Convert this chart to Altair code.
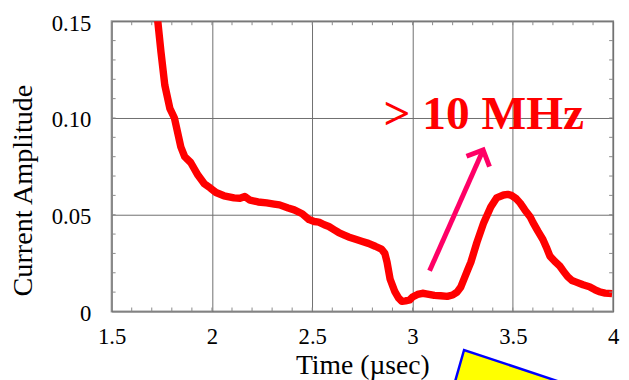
import altair as alt
import pandas as pd

# ---- data ----
time_us = [1.728, 1.746, 1.765, 1.79, 1.813, 1.845, 1.864, 1.894, 1.93, 1.962, 1.992,
           2.02, 2.06, 2.11, 2.14, 2.164, 2.19, 2.23, 2.273, 2.31, 2.337, 2.38, 2.41,
           2.45, 2.484, 2.51, 2.533, 2.56, 2.583, 2.61, 2.632, 2.66, 2.681, 2.72, 2.75,
           2.78, 2.814, 2.845, 2.862, 2.873, 2.888, 2.912, 2.93, 2.947, 2.965, 2.986,
           3.0, 3.025, 3.05, 3.075, 3.109, 3.14, 3.173, 3.2, 3.222, 3.24, 3.257, 3.275,
           3.291, 3.321, 3.355, 3.39, 3.419, 3.454, 3.475, 3.493, 3.515, 3.537, 3.56,
           3.586, 3.601, 3.625, 3.65, 3.67, 3.685, 3.71, 3.734, 3.755, 3.774, 3.795,
           3.813, 3.85, 3.882, 3.91, 3.931, 3.96, 3.995]
amplitude = [0.152, 0.134, 0.117, 0.105, 0.100, 0.085, 0.080, 0.077, 0.0705, 0.066, 0.0638,
             0.0615, 0.0598, 0.0587, 0.0585, 0.0594, 0.0575, 0.0566, 0.0561, 0.0555, 0.0551,
             0.0535, 0.0525, 0.0505, 0.0475, 0.0465, 0.0462, 0.0448, 0.0439, 0.0422, 0.0408,
             0.0395, 0.0385, 0.0372, 0.0362, 0.0352, 0.0337, 0.0322, 0.0300, 0.0255, 0.0168,
             0.0102, 0.0070, 0.0052, 0.0055, 0.0060, 0.0075, 0.0088, 0.0094, 0.0090, 0.0083,
             0.0081, 0.0078, 0.0085, 0.0100, 0.0125, 0.0168, 0.0215, 0.0255, 0.0357, 0.0459,
             0.0540, 0.0587, 0.0602, 0.0605, 0.0600, 0.0585, 0.0560, 0.0525, 0.0490, 0.0459,
             0.0415, 0.0372, 0.0325, 0.0286, 0.0258, 0.0235, 0.0205, 0.0179, 0.0160, 0.0153,
             0.0138, 0.0128, 0.0112, 0.0102, 0.0095, 0.0092]

x_ticks = [1.5, 2, 2.5, 3, 3.5, 4]
y_ticks = [0, 0.05, 0.10, 0.15]
x_minor = [round(1.5 + 0.1 * i, 2) for i in range(1, 25)]
y_minor = [round(0.01 * i, 2) for i in range(1, 15)]

arrow_x = [3.085, 3.352]
arrow_y = [0.021, 0.0835]
label_text = ["> 10 MHz"]
label_x = [3.355]
label_y = [0.0942]

tri_x = [3.1614, 3.257, 4.261]
tri_top = [-0.0546, -0.0199, -0.0546]
tri_bottom = [-0.0546, -0.0546, -0.0546]

FONT = "Liberation Serif"
W, H = 508, 294

xs = alt.Scale(domain=[1.5, 4], nice=False, zero=False)
ys = alt.Scale(domain=[0, 0.15], nice=False, zero=False)

curve_df = pd.DataFrame({"t": time_us, "a": amplitude})

curve = alt.Chart(curve_df).mark_line(
    color="#FF0000", strokeWidth=7.5, clip=True, strokeJoin="round"
).encode(
    x=alt.X("t:Q", scale=xs, axis=alt.Axis(
        values=x_ticks, grid=True, ticks=False, domain=False, labelFlush=False,
        labelExpr="format(datum.value, '~g')", labelFont=FONT, labelFontSize=23,
        labelColor="black", labelPadding=14, title="Time (\u00b5sec)", titleFont=FONT,
        titleFontSize=28, titleFontWeight="normal", titleColor="black",
        titleBaseline="alphabetic", titleY=63)),
    y=alt.Y("a:Q", scale=ys, axis=alt.Axis(
        values=y_ticks, grid=True, ticks=False, domain=False, labelFlush=False,
        labelExpr="datum.value == 0 ? '0' : format(datum.value, '.2f')",
        labelFont=FONT, labelFontSize=23, labelColor="black", labelPadding=21,
        labelOffset=2, title="Current Amplitude", titleFont=FONT, titleFontSize=28.5,
        titleFontWeight="normal", titleColor="black", titleBaseline="alphabetic",
        titleAngle=270, titleX=-81, titleY=171, titleAlign="center")),
)

tick_col = "#8a8a8a"
xm_df = pd.DataFrame({"t": x_minor})
ym_df = pd.DataFrame({"a": y_minor})
bottom_ticks = alt.Chart(xm_df).mark_rule(color=tick_col, strokeWidth=1).encode(
    x=alt.X("t:Q", scale=xs, axis=None), y=alt.value(H), y2=alt.value(H - 4))
top_ticks = alt.Chart(xm_df).mark_rule(color=tick_col, strokeWidth=1).encode(
    x=alt.X("t:Q", scale=xs, axis=None), y=alt.value(0), y2=alt.value(4))
left_ticks = alt.Chart(ym_df).mark_rule(color=tick_col, strokeWidth=1).encode(
    y=alt.Y("a:Q", scale=ys, axis=None), x=alt.value(0), x2=alt.value(4))
right_ticks = alt.Chart(ym_df).mark_rule(color=tick_col, strokeWidth=1).encode(
    y=alt.Y("a:Q", scale=ys, axis=None), x=alt.value(W), x2=alt.value(W - 4))

arrow_df = pd.DataFrame({"x": arrow_x, "y": arrow_y, "o": [0, 1]})
arrow_line = alt.Chart(arrow_df).mark_line(color="#FF0066", strokeWidth=5).encode(
    x=alt.X("x:Q", scale=xs, axis=None), y=alt.Y("y:Q", scale=ys, axis=None), order="o:Q")
head_df = pd.DataFrame({"x": arrow_x[1:], "y": arrow_y[1:]})
arrow_head = alt.Chart(head_df).mark_point(
    shape="M -1 1 L 0 0 L 1 1", angle=24, size=650, filled=False,
    stroke="#FF0066", strokeWidth=5, opacity=1, strokeJoin="miter"
).encode(x=alt.X("x:Q", scale=xs, axis=None), y=alt.Y("y:Q", scale=ys, axis=None))

label_df = pd.DataFrame({"x": label_x, "y": label_y, "txt": label_text})
label = alt.Chart(label_df).mark_text(
    font=FONT, fontSize=48, fontWeight="bold", color="#FF0000",
    align="center", baseline="alphabetic"
).encode(x=alt.X("x:Q", scale=xs, axis=None), y=alt.Y("y:Q", scale=ys, axis=None),
         text="txt:N")

tri_df = pd.DataFrame({"x": tri_x, "top": tri_top, "bot": tri_bottom})
triangle = alt.Chart(tri_df).mark_area(
    color="#FFFF00", stroke="#0000FF", strokeWidth=2.5, opacity=1, fillOpacity=1
).encode(x=alt.X("x:Q", scale=xs, axis=None), y=alt.Y("top:Q", scale=ys, axis=None),
         y2="bot:Q")

chart = alt.layer(
    triangle, curve, bottom_ticks, top_ticks, left_ticks, right_ticks,
    arrow_line, arrow_head, label
).resolve_axis(
    x="independent", y="independent"
).properties(
    width=W, height=H,
    autosize=alt.AutoSizeParams(type="none"),
    padding={"left": 105, "top": 11, "right": 8, "bottom": 67},
    background="white",
).configure_view(
    stroke="#9a9a9a", strokeWidth=2
).configure_axis(
    gridColor="#6e6e6e", gridWidth=1, gridOpacity=1
)

chart.save("out.html", embed_options={"renderer": "svg", "actions": False})
